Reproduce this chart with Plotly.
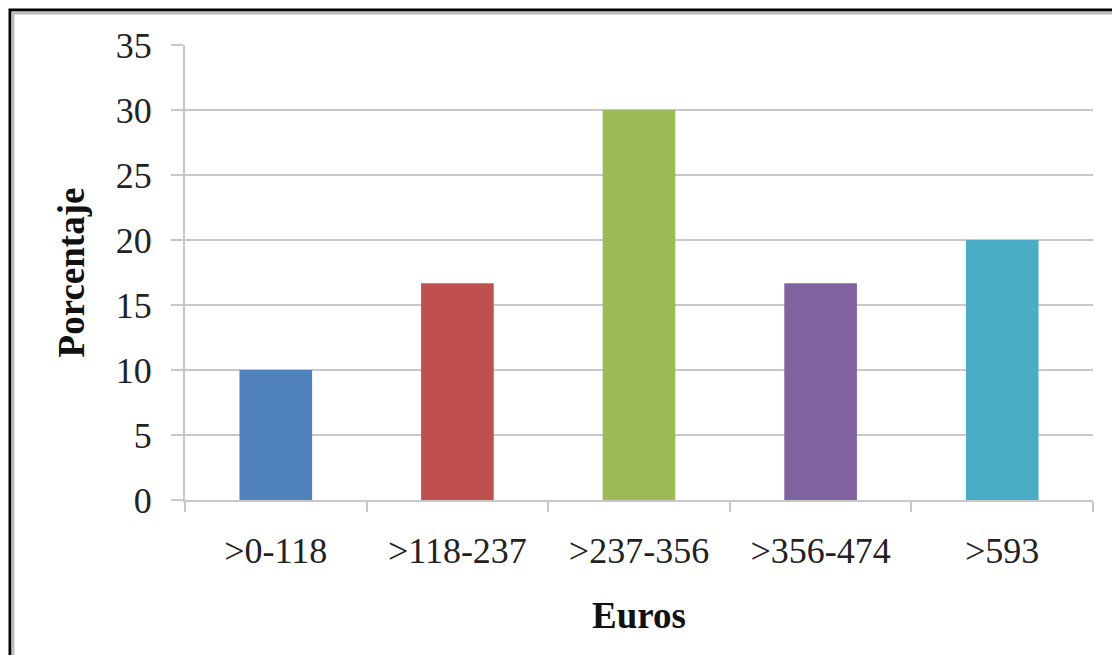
import plotly.graph_objects as go

# Data
categories = ['>0-118', '>118-237', '>237-356', '>356-474', '>593']
percentages = [10, 16.67, 30, 16.67, 20]
bar_colors = ['#4F81BD', '#C0504D', '#9BBB59', '#8064A2', '#4BACC6']
y_ticks = [0, 5, 10, 15, 20, 25, 30, 35]

# page body has an 8px margin on every side, so the figure is made 16px
# smaller than the window and everything is shifted back by 8px
OFF = 8
W, H = 1120 - 2 * OFF, 663 - 2 * OFF
ML, MT = 185 - OFF, 45 - OFF
pw, ph = 908, 455
MR, MB = W - ML - pw, H - MT - ph

def px_x(p):
    return (p - OFF - ML) / pw

def px_y(p):
    return 1 - (p - OFF - MT) / ph

fig = go.Figure()
fig.add_trace(go.Bar(x=categories, y=percentages, marker_color=bar_colors,
                     marker_line_width=0, showlegend=False))

axis_gray = '#c8c8c8'
serif = 'Liberation Serif, Times New Roman, serif'

fig.update_layout(
    width=W, height=H,
    margin=dict(l=ML, r=MR, t=MT, b=MB),
    paper_bgcolor='white', plot_bgcolor='white',
    bargap=0.6,
    font=dict(family=serif, color='#1a1a1a'),
    xaxis=dict(
        title=dict(text='<b>Euros</b>', font=dict(size=37, color='#111'), standoff=32),
        tickfont=dict(size=36, color='#222'),
        ticklabelstandoff=18,
        showline=True, linecolor=axis_gray, linewidth=2,
        ticks='outside', ticklen=10, tickwidth=2, tickcolor=axis_gray,
        tickson='boundaries', showgrid=False,
        automargin=False,
    ),
    yaxis=dict(
        title=dict(text='<b>Porcentaje</b>', font=dict(size=37, color='#111'), standoff=20),
        tickfont=dict(size=36, color='#222'),
        ticklabelstandoff=12,
        range=[0, 35], tickvals=y_ticks,
        showline=True, linecolor=axis_gray, linewidth=2,
        ticks='outside', ticklen=12, tickwidth=2, tickcolor=axis_gray,
        showgrid=True, gridcolor=axis_gray, gridwidth=2,
        zeroline=False, automargin=False,
    ),
)

# Frame around the picture (black line with a grey shadow inside)
fig.add_shape(type='rect', xref='paper', yref='paper',
              x0=px_x(10), x1=px_x(1300), y0=px_y(800), y1=px_y(10),
              line=dict(color='black', width=3), layer='above')
fig.add_shape(type='rect', xref='paper', yref='paper',
              x0=px_x(13), x1=px_x(1300), y0=px_y(800), y1=px_y(13),
              line=dict(color='#bdbdbd', width=3), layer='above')

fig.write_html("out.html")
